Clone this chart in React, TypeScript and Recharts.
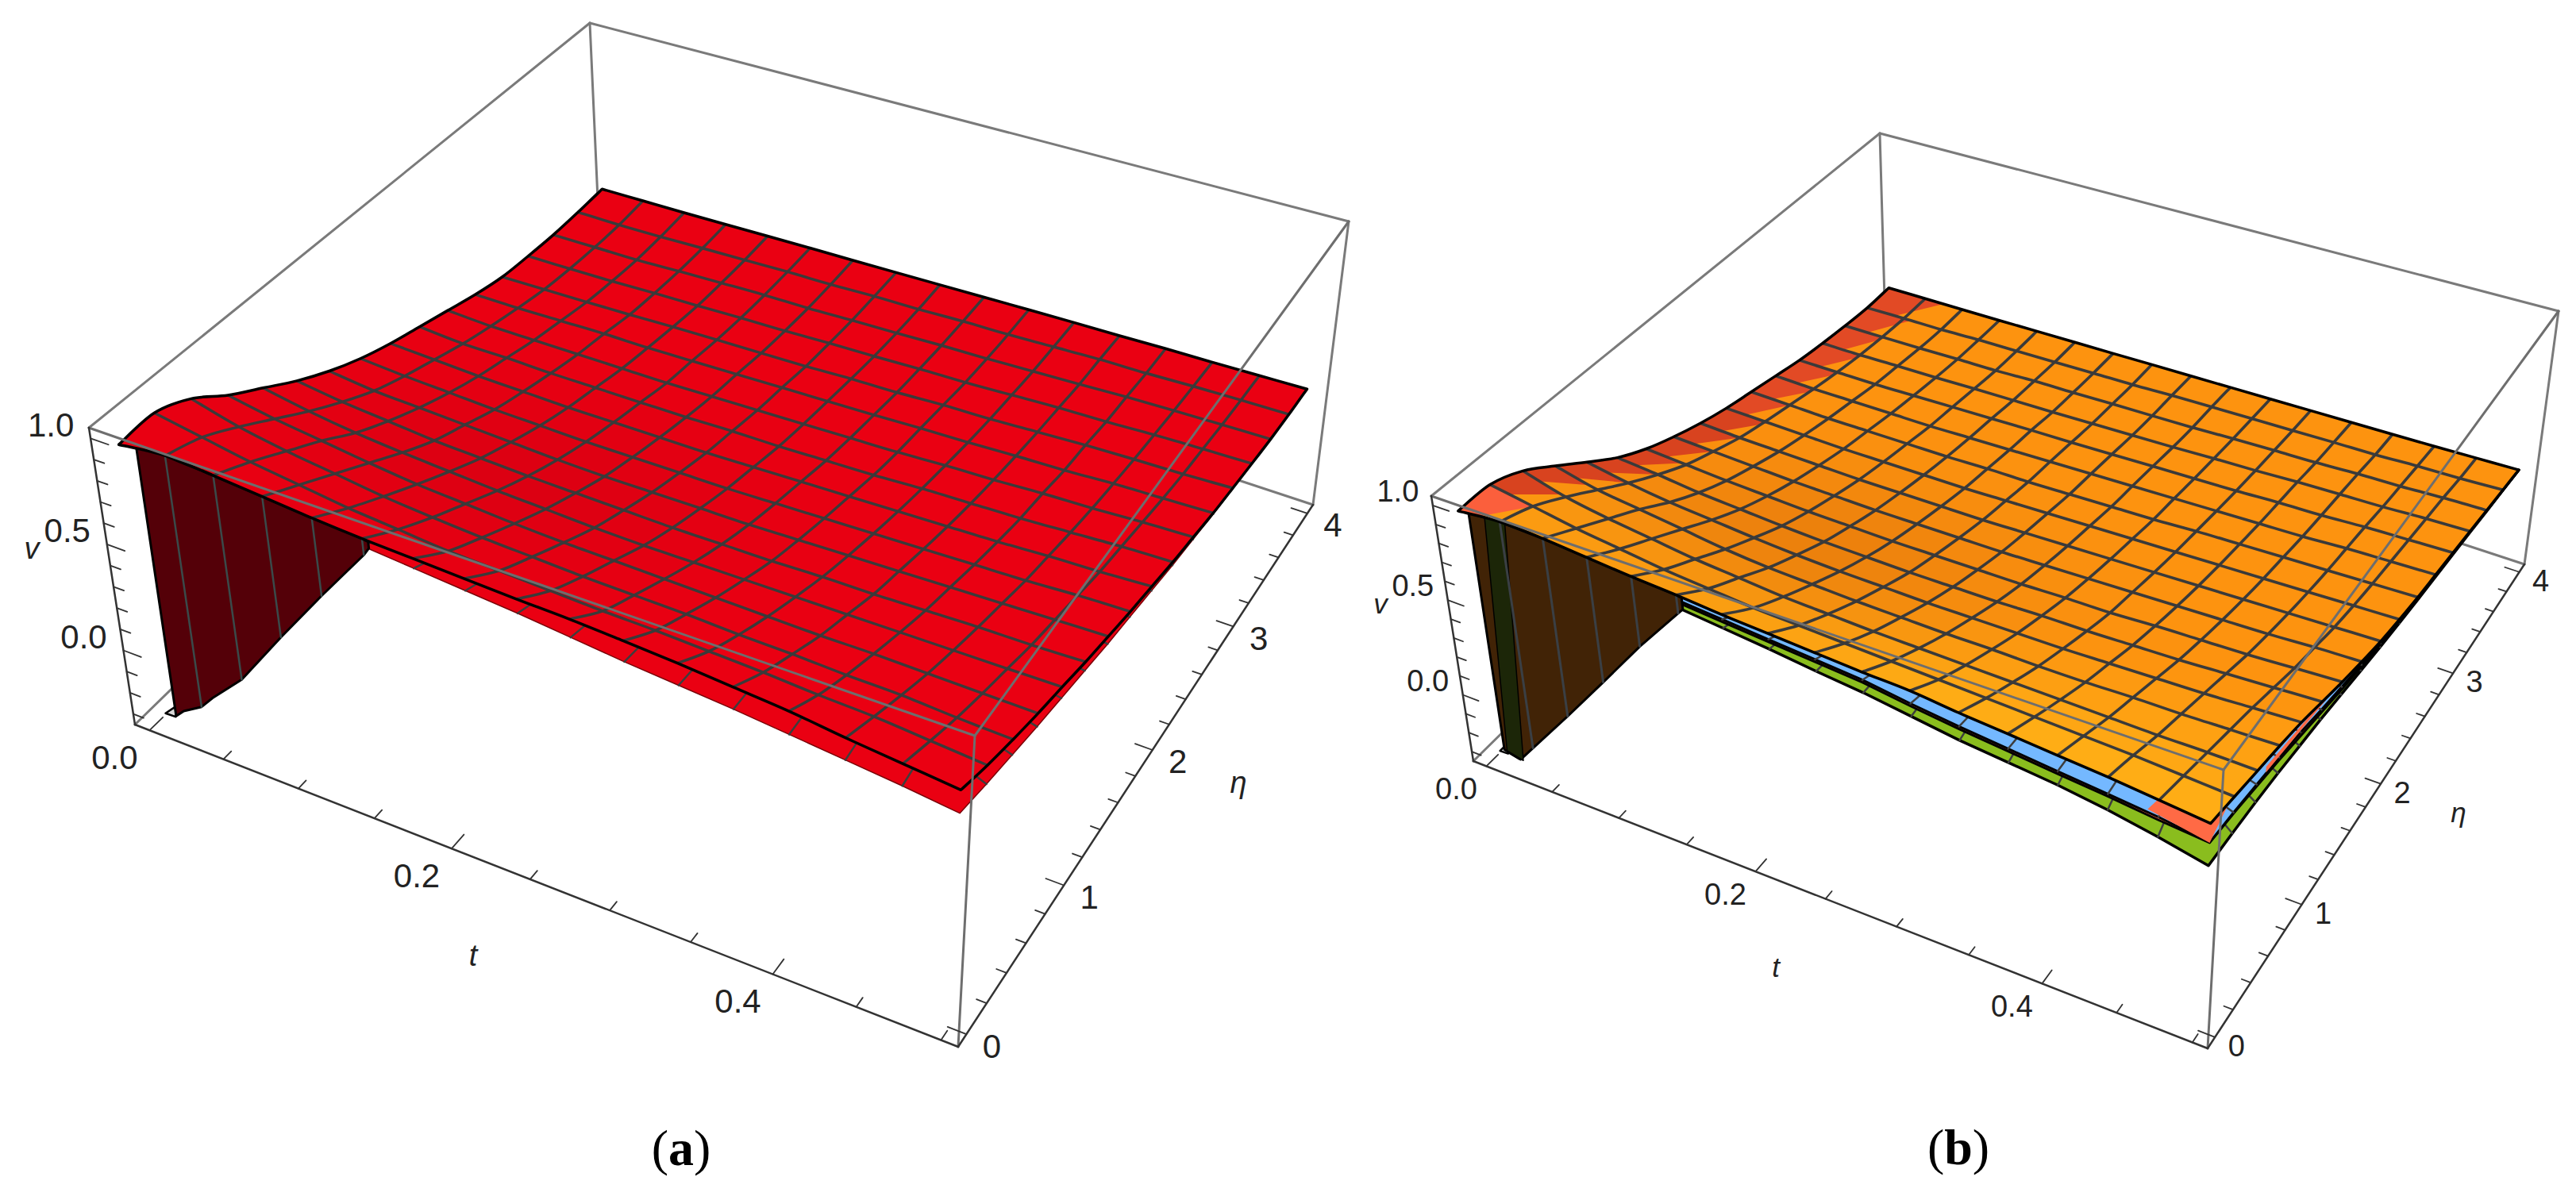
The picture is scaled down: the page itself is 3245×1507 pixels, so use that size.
import { Scatter, ScatterChart, XAxis, YAxis } from 'recharts'

const WIDTH = 3245
const HEIGHT = 1507

// axis domains of the two boxes
const T_RANGE = [-0.01, 0.51]
const ETA_RANGE = [-0.08, 4.08]
const V_RANGE = [-0.35, 1.05]

const tGrid = [0, 0.03125, 0.0625, 0.09375, 0.125, 0.15625, 0.1875, 0.21875, 0.25, 0.28125, 0.3125, 0.34375, 0.375, 0.40625, 0.4375, 0.46875, 0.5]
const etaGrid = [0, 0.25, 0.5, 0.75, 1, 1.25, 1.5, 1.75, 2, 2.25, 2.5, 2.75, 3, 3.25, 3.5, 3.75, 4]

const tTicks = [0, 0.05, 0.1, 0.15, 0.2, 0.25, 0.3, 0.35, 0.4, 0.45, 0.5]
const tMajor = [0, 0.2, 0.4]
const etaTicks = [0, 0.2, 0.4, 0.6, 0.8, 1, 1.2, 1.4, 1.6, 1.8, 2, 2.2, 2.4, 2.6, 2.8, 3, 3.2, 3.4, 3.6, 3.8, 4]
const etaMajor = [0, 1, 2, 3, 4]
const vTicks = [-0.3, -0.2, -0.1, 0, 0.1, 0.2, 0.3, 0.4, 0.5, 0.6, 0.7, 0.8, 0.9, 1]
const vMajor = [0, 0.5, 1]

const tLabels = ['0.0', '0.2', '0.4']
const etaLabels = ['0', '1', '2', '3', '4']
const vLabels = ['0.0', '0.5', '1.0']

// upper surface of panel (a), one row per t, one column per eta
const sheetA = [
  [0.95, 0.96, 0.89, 0.77, 0.67, 0.57, 0.485, 0.415, 0.36, 0.315, 0.27, 0.225, 0.19, 0.175, 0.165, 0.165, 0.17],
  [0.975, 0.92, 0.83, 0.73, 0.63, 0.54, 0.46, 0.4, 0.35, 0.3, 0.26, 0.225, 0.195, 0.178, 0.168, 0.165, 0.174],
  [0.96, 0.88, 0.79, 0.7, 0.6, 0.52, 0.45, 0.39, 0.34, 0.3, 0.26, 0.23, 0.2, 0.182, 0.17, 0.17, 0.178],
  [0.94, 0.85, 0.76, 0.67, 0.58, 0.5, 0.44, 0.38, 0.335, 0.295, 0.26, 0.235, 0.205, 0.19, 0.18, 0.178, 0.183],
  [0.92, 0.82, 0.73, 0.645, 0.565, 0.49, 0.43, 0.375, 0.33, 0.295, 0.26, 0.235, 0.213, 0.195, 0.188, 0.185, 0.189],
  [0.905, 0.8, 0.71, 0.63, 0.55, 0.48, 0.42, 0.37, 0.33, 0.295, 0.26, 0.24, 0.218, 0.203, 0.195, 0.192, 0.194],
  [0.895, 0.78, 0.695, 0.615, 0.54, 0.475, 0.415, 0.37, 0.33, 0.295, 0.265, 0.245, 0.222, 0.207, 0.197, 0.195, 0.198],
  [0.885, 0.77, 0.685, 0.605, 0.53, 0.47, 0.415, 0.37, 0.33, 0.3, 0.27, 0.25, 0.227, 0.215, 0.205, 0.203, 0.203],
  [0.875, 0.76, 0.675, 0.6, 0.525, 0.465, 0.415, 0.37, 0.335, 0.3, 0.275, 0.255, 0.236, 0.22, 0.21, 0.206, 0.208],
  [0.868, 0.75, 0.67, 0.595, 0.525, 0.465, 0.415, 0.375, 0.34, 0.305, 0.28, 0.26, 0.24, 0.228, 0.218, 0.214, 0.213],
  [0.855, 0.745, 0.665, 0.59, 0.525, 0.465, 0.42, 0.38, 0.345, 0.31, 0.285, 0.268, 0.25, 0.232, 0.222, 0.217, 0.218],
  [0.84, 0.735, 0.655, 0.585, 0.525, 0.47, 0.425, 0.385, 0.35, 0.32, 0.295, 0.272, 0.254, 0.241, 0.23, 0.225, 0.222],
  [0.82, 0.725, 0.65, 0.58, 0.525, 0.47, 0.43, 0.39, 0.355, 0.325, 0.3, 0.28, 0.263, 0.25, 0.237, 0.232, 0.225],
  [0.8, 0.71, 0.64, 0.58, 0.525, 0.475, 0.435, 0.395, 0.36, 0.33, 0.31, 0.285, 0.272, 0.254, 0.245, 0.234, 0.23],
  [0.77, 0.7, 0.635, 0.575, 0.525, 0.48, 0.44, 0.4, 0.37, 0.34, 0.315, 0.295, 0.277, 0.263, 0.25, 0.24, 0.232],
  [0.745, 0.68, 0.62, 0.57, 0.525, 0.48, 0.445, 0.41, 0.375, 0.35, 0.325, 0.3, 0.28, 0.267, 0.253, 0.243, 0.236],
  [0.72, 0.66, 0.61, 0.565, 0.526, 0.485, 0.45, 0.415, 0.385, 0.355, 0.33, 0.305, 0.287, 0.27, 0.255, 0.245, 0.24],
]

// upper surface of panel (b)
const sheetB = [
  [0.95, 0.95, 0.885, 0.775, 0.66, 0.55, 0.465, 0.4, 0.345, 0.3, 0.265, 0.23, 0.195, 0.17, 0.15, 0.135, 0.135],
  [0.97, 0.91, 0.82, 0.72, 0.62, 0.53, 0.45, 0.39, 0.335, 0.295, 0.26, 0.225, 0.195, 0.17, 0.152, 0.14, 0.138],
  [0.96, 0.87, 0.78, 0.69, 0.59, 0.505, 0.435, 0.38, 0.33, 0.29, 0.255, 0.225, 0.195, 0.175, 0.155, 0.142, 0.14],
  [0.94, 0.84, 0.75, 0.66, 0.57, 0.49, 0.425, 0.37, 0.325, 0.285, 0.255, 0.225, 0.2, 0.178, 0.16, 0.15, 0.143],
  [0.92, 0.81, 0.72, 0.63, 0.55, 0.475, 0.415, 0.365, 0.32, 0.285, 0.255, 0.225, 0.205, 0.183, 0.163, 0.153, 0.147],
  [0.905, 0.79, 0.7, 0.61, 0.535, 0.465, 0.41, 0.36, 0.32, 0.285, 0.255, 0.23, 0.21, 0.187, 0.172, 0.157, 0.15],
  [0.885, 0.77, 0.68, 0.6, 0.525, 0.46, 0.405, 0.36, 0.32, 0.285, 0.26, 0.235, 0.215, 0.19, 0.175, 0.162, 0.153],
  [0.87, 0.76, 0.67, 0.59, 0.52, 0.455, 0.405, 0.36, 0.32, 0.29, 0.26, 0.24, 0.218, 0.195, 0.18, 0.165, 0.157],
  [0.855, 0.75, 0.66, 0.585, 0.515, 0.455, 0.405, 0.36, 0.325, 0.295, 0.265, 0.245, 0.223, 0.2, 0.183, 0.173, 0.16],
  [0.84, 0.74, 0.655, 0.58, 0.515, 0.455, 0.405, 0.365, 0.33, 0.3, 0.27, 0.25, 0.228, 0.205, 0.187, 0.177, 0.163],
  [0.83, 0.73, 0.65, 0.58, 0.515, 0.46, 0.41, 0.37, 0.335, 0.305, 0.275, 0.255, 0.232, 0.213, 0.195, 0.18, 0.166],
  [0.805, 0.72, 0.645, 0.575, 0.515, 0.46, 0.41, 0.375, 0.34, 0.31, 0.285, 0.26, 0.237, 0.218, 0.2, 0.184, 0.17],
  [0.785, 0.71, 0.64, 0.575, 0.52, 0.465, 0.42, 0.38, 0.345, 0.315, 0.29, 0.265, 0.246, 0.227, 0.204, 0.188, 0.173],
  [0.765, 0.7, 0.635, 0.58, 0.525, 0.47, 0.425, 0.385, 0.35, 0.32, 0.295, 0.27, 0.25, 0.232, 0.213, 0.19, 0.176],
  [0.745, 0.69, 0.63, 0.58, 0.53, 0.48, 0.43, 0.39, 0.355, 0.325, 0.3, 0.28, 0.26, 0.236, 0.217, 0.198, 0.18],
  [0.72, 0.675, 0.63, 0.585, 0.54, 0.49, 0.44, 0.4, 0.36, 0.33, 0.305, 0.285, 0.265, 0.245, 0.226, 0.202, 0.185],
  [0.695, 0.66, 0.625, 0.59, 0.55, 0.5, 0.45, 0.405, 0.365, 0.335, 0.31, 0.29, 0.27, 0.25, 0.23, 0.21, 0.19],
]

// lower sheets: only their front (eta = 0) and right (t = 0.5) rims can be seen
const lowerFrontA = [0.9, 0.9, 0.9, 0.9, 0.885, 0.87, 0.85, 0.83, 0.81, 0.785, 0.76, 0.74, 0.72, 0.695, 0.67, 0.645, 0.615]
const lowerRightA = [0.615, 0.575, 0.54, 0.505, 0.475, 0.445, 0.415, 0.39, 0.365, 0.34, 0.32, 0.3, 0.285, 0.27, 0.255, 0.245, 0.24]

const blueFrontB = [0.94, 0.95, 0.94, 0.92, 0.9, 0.88, 0.86, 0.84, 0.82, 0.8, 0.765, 0.735, 0.71, 0.685, 0.66, 0.635, 0.6]
const blueRightB = [0.6, 0.58, 0.555, 0.53, 0.5, 0.46, 0.425, 0.39, 0.355, 0.33, 0.305, 0.285, 0.268, 0.25, 0.23, 0.21, 0.19]
const redFrontB = [0.93, 0.94, 0.93, 0.91, 0.89, 0.868, 0.847, 0.827, 0.807, 0.787, 0.752, 0.722, 0.697, 0.672, 0.648, 0.62, 0.598]
const redRightB = [0.598, 0.575, 0.545, 0.515, 0.48, 0.445, 0.41, 0.38, 0.35, 0.325, 0.3, 0.282, 0.265, 0.248, 0.228, 0.21, 0.19]
const greenFrontB = [0.92, 0.93, 0.915, 0.89, 0.865, 0.84, 0.815, 0.79, 0.76, 0.735, 0.7, 0.665, 0.64, 0.615, 0.58, 0.535, 0.483]
const greenRightB = [0.483, 0.475, 0.465, 0.45, 0.43, 0.41, 0.385, 0.36, 0.335, 0.315, 0.295, 0.278, 0.262, 0.245, 0.225, 0.208, 0.19]

// steep wall next to eta = 0
const wallTA = [0.012, 0.018, 0.03125, 0.04, 0.0625, 0.09375, 0.125, 0.15625, 0.16]
const wallBottomA = [-0.3, -0.26, -0.205, -0.14, 0.006, 0.286, 0.56, 0.83, 0.87]
const wallTopA = [0.96, 0.975, 0.975, 0.97, 0.96, 0.94, 0.92, 0.905, 0.9]

const wallTB = [0.008, 0.02, 0.03125, 0.0625, 0.09375, 0.125, 0.15625, 0.16]
const wallBottomB = [-0.29, -0.31, -0.22, 0.03, 0.29, 0.557, 0.81, 0.84]
const wallTopB = [0.96, 0.965, 0.97, 0.96, 0.94, 0.92, 0.905, 0.9]

// dark green strip of the (b) wall: t along its top rim, then along its foot
const stripTopTB = [0.02, 0.035]
const stripFootTB = [0.022, 0.01]

// small grey flaps at the foot of the walls, as t, eta pairs on the floor
const flapTA = [-0.0007, 0.001, 0.006]
const flapEtaA = [0.048, 0.11, 0.05]
const flapTB1 = [-0.001, -0.001, 0.005]
const flapEtaB1 = [0.048, 0.118, 0.05]
const flapTB2 = [0.006, 0.008, 0.014]
const flapEtaB2 = [0.056, 0.112, 0.044]

// where the salmon sheet of (b) comes out above the blue one
const cornerPatchT = [0.5, 0.462, 0.47, 0.5]
const cornerPatchEta = [0, 0, 0.1, 0.2]
const cornerPatchV = [0.598, 0.655, 0.72, 0.67]
const streakEta = [0.6, 1.3, 1.3, 0.6]
const streakV = [0.58, 0.5, 0.48, 0.55]

// how far the darker red band reaches into the first row of (b), per eta cell
const patchReachB = [1, 0.9, 0.8, 1, 1, 0.9, 1, 1, 1.1, 1, 1.1, 1.1, 1.1, 1.1, 1.2, 1.5]

type Pt = [number, number]
type Box = { bl: Pt; bf: Pt; br: Pt; bb: Pt; tl: Pt; tf: Pt; tr: Pt; tb: Pt }
type Xy = { x: number; y: number }

const boxA: Box = {
  bl: [170, 913], bf: [1207, 1319], br: [1654, 636], bb: [757, 340],
  tl: [112, 539], tf: [1228, 927], tr: [1699, 279], tb: [743, 29],
}
const boxB: Box = {
  bl: [1856, 959], bf: [2781, 1321], br: [3180, 711], bb: [2376, 447],
  tl: [1803, 625], tf: [2801, 970], tr: [3223, 392], tb: [2368, 168],
}

// unit square -> quad, p0 (0,0), p1 (1,0), p2 (1,1), p3 (0,1)
const homography = (p0: Pt, p1: Pt, p2: Pt, p3: Pt) => {
  const dx1 = p1[0] - p2[0]
  const dx2 = p3[0] - p2[0]
  const sx = p0[0] - p1[0] + p2[0] - p3[0]
  const dy1 = p1[1] - p2[1]
  const dy2 = p3[1] - p2[1]
  const sy = p0[1] - p1[1] + p2[1] - p3[1]
  const den = dx1 * dy2 - dx2 * dy1
  const g = (sx * dy2 - dx2 * sy) / den
  const h = (dx1 * sy - sx * dy1) / den
  const a = p1[0] - p0[0] + g * p1[0]
  const b = p3[0] - p0[0] + h * p3[0]
  const d = p1[1] - p0[1] + g * p1[1]
  const e = p3[1] - p0[1] + h * p3[1]
  return (u: number, w: number): Pt => {
    const q = g * u + h * w + 1
    return [(a * u + b * w + p0[0]) / q, (d * u + e * w + p0[1]) / q]
  }
}

const makeProjection = (box: Box) => {
  const base = homography(box.bl, box.bf, box.br, box.bb)
  const top = homography(box.tl, box.tf, box.tr, box.tb)
  return (t: number, eta: number, v: number): Xy => {
    const u = (t - T_RANGE[0]) / (T_RANGE[1] - T_RANGE[0])
    const w = (eta - ETA_RANGE[0]) / (ETA_RANGE[1] - ETA_RANGE[0])
    const h = (v - V_RANGE[0]) / (V_RANGE[1] - V_RANGE[0])
    const b = base(u, w)
    const a = top(u, w)
    return { x: b[0] + (a[0] - b[0]) * h, y: b[1] + (a[1] - b[1]) * h }
  }
}

type Mark = { x: number; y: number; label?: string }
type Proj = ReturnType<typeof makeProjection>

const mix = (c1: number[], c2: number[], k: number) =>
  `rgb(${c1.map((c, i) => Math.round(c + (c2[i] - c) * k)).join(',')})`
const clamp = (k: number) => Math.max(0, Math.min(1, k))

const darkBand = (t: number, eta: number) =>
  Math.exp(-(((t - 0.15) / 0.13) ** 2) - (((eta - 1.2) / 0.9) ** 2))

const tintA = (t: number, eta: number) => mix([234, 0, 18], [220, 0, 18], darkBand(t, eta))
const tintB = (t: number, eta: number) => {
  const warm = clamp((1.2 - eta) / 1.2) * clamp(0.35 + t * 2)
  const c = [253, 147, 15].map((x, i) => x + ([255, 176, 22][i] - x) * warm)
  return mix(c, [228, 120, 11], darkBand(t, eta) * 0.7)
}

const noDot = () => <g />

// Catmull-Rom through the grid vertices, the real surface has no corners there
const smooth = (pts: Xy[], move = true) => {
  let d = move ? `M${pts[0].x},${pts[0].y}` : `L${pts[0].x},${pts[0].y}`
  for (let i = 0; i < pts.length - 1; i++) {
    const p0 = pts[Math.max(i - 1, 0)]
    const p1 = pts[i]
    const p2 = pts[i + 1]
    const p3 = pts[Math.min(i + 2, pts.length - 1)]
    d += `C${p1.x + (p2.x - p0.x) / 6},${p1.y + (p2.y - p0.y) / 6} ${p2.x - (p3.x - p1.x) / 6},${p2.y - (p3.y - p1.y) / 6} ${p2.x},${p2.y}`
  }
  return d
}

// grid vertices -> filled cells with the mesh drawn over them
const renderSheet = (points: Xy[], tint: (t: number, eta: number) => string, meshWidth: number, reach?: number[]) => {
  const n = tGrid.length
  const m = etaGrid.length
  const at = (i: number, j: number) => points[i * m + j]
  const poly = (list: Xy[]) => list.map((p) => `${p.x},${p.y}`).join(' ')
  const lerp = (a: Xy, b: Xy, k: number) => ({ x: a.x + (b.x - a.x) * k, y: a.y + (b.y - a.y) * k })
  const cells = []
  for (let i = 0; i < n - 1; i++) {
    for (let j = 0; j < m - 1; j++) {
      const fill = tint((tGrid[i] + tGrid[i + 1]) / 2, (etaGrid[j] + etaGrid[j + 1]) / 2)
      cells.push(
        <polygon key={`c${i}-${j}`} points={poly([at(i, j), at(i, j + 1), at(i + 1, j + 1), at(i + 1, j)])} fill={fill} stroke={fill} strokeWidth={1} />,
      )
    }
  }
  const band = (reach ?? []).map((r, j) => {
    const a = lerp(at(0, j), at(1, j), r * 0.5)
    const b = lerp(at(0, j + 1), at(1, j + 1), r)
    const fill = j < 1 ? '#fb5f3c' : j < 9 ? '#d8431f' : '#e24a25'
    return <polygon key={`p${j}`} points={poly([at(0, j), at(0, j + 1), b, a])} fill={fill} />
  })
  const lines = []
  for (let i = 1; i < n - 1; i++) {
    lines.push(<path key={`t${i}`} d={smooth(etaGrid.map((_, j) => at(i, j)))} fill="none" stroke="#3a3a3a" strokeWidth={meshWidth} />)
  }
  for (let j = 1; j < m - 1; j++) {
    lines.push(<path key={`e${j}`} d={smooth(tGrid.map((_, i) => at(i, j)))} fill="none" stroke="#3a3a3a" strokeWidth={meshWidth} />)
  }
  const rim =
    smooth(etaGrid.map((_, j) => at(0, j))) +
    smooth(tGrid.map((_, i) => at(i, m - 1)), false) +
    smooth(etaGrid.map((_, j) => at(n - 1, m - 1 - j)), false) +
    smooth(tGrid.map((_, i) => at(n - 1 - i, 0)), false) +
    'Z'
  return (
    <g>
      <path d={rim} fill={tint(0, 0)} />
      {cells}
      {band}
      {lines}
      <path d={rim} fill="none" stroke="#000" strokeWidth={3.5} strokeLinejoin="round" />
    </g>
  )
}

const renderSegments = (points: Xy[], stroke: string, width: number) => (
  <g>
    {points.filter((_, i) => i % 2 === 0).map((p, i) => (
      <line key={i} x1={p.x} y1={p.y} x2={points[i * 2 + 1].x} y2={points[i * 2 + 1].y} stroke={stroke} strokeWidth={width} strokeLinecap="round" />
    ))}
  </g>
)

const renderPolygon = (points: Xy[], fill: string, stroke: string, width: number) => (
  <polygon points={points.map((p) => `${p.x},${p.y}`).join(' ')} fill={fill} stroke={stroke} strokeWidth={width} strokeLinejoin="round" />
)

const textShape = (size: number, italic: boolean) => (props: any) => (
  <text
    x={props.cx}
    y={props.cy}
    textAnchor="middle"
    dominantBaseline="central"
    fontFamily="'Liberation Sans', Arial, sans-serif"
    fontSize={size}
    fontStyle={italic ? 'italic' : 'normal'}
    fill="#222"
  >
    {props.payload.label}
  </text>
)

const captionShape = (props: any) => (
  <text x={props.cx} y={props.cy} textAnchor="middle" dominantBaseline="central" fontFamily="'Liberation Serif', serif" fontSize={64} fill="#000">
    (<tspan fontWeight="bold">{props.payload.label}</tspan>)
  </text>
)

const edges = (project: Proj, list: number[][][]) =>
  list.flatMap(([a, b]) => [project(a[0], a[1], a[2]), project(b[0], b[1], b[2])])

const rimOutline = (project: Proj, sheet: number[][], front: number[], right: number[], fromRow: number) => [
  ...tGrid.slice(fromRow).map((t, i) => project(t, 0, front[i + fromRow])),
  ...etaGrid.slice(1).map((e, j) => project(0.5, e, right[j + 1])),
  project(tGrid[8], etaGrid[8], sheet[8][8]),
]

const rimMesh = (project: Proj, sheet: number[][], front: number[], right: number[], fromRow: number) => [
  ...tGrid.slice(fromRow, -1).flatMap((t, i) => [project(t, 0, front[i + fromRow]), project(t, etaGrid[1], sheet[i + fromRow][1])]),
  ...etaGrid.slice(1, -1).flatMap((e, j) => [project(0.5, e, right[j + 1]), project(tGrid[15], e, sheet[15][j + 1])]),
]

const wallOutline = (project: Proj, tv: number[], top: number[], bottom: number[]) => [
  ...tv.map((t, i) => project(t, 0, top[i])),
  ...[...tv].reverse().map((t, i) => project(t, 0, bottom[tv.length - 1 - i])),
]

const wallMesh = (project: Proj, tv: number[], top: number[], bottom: number[]) =>
  tGrid.slice(1).flatMap((t) => {
    const b = tv.indexOf(t)
    return b < 0 ? [] : [project(t, 0, top[b]), project(t, 0, bottom[b])]
  })

const T0 = T_RANGE[0]
const T1 = T_RANGE[1]
const E0 = ETA_RANGE[0]
const E1 = ETA_RANGE[1]
const V0 = V_RANGE[0]
const V1 = V_RANGE[1]

const backEdges = [
  [[T0, E1, V1], [T0, E0, V1]],
  [[T0, E1, V1], [T1, E1, V1]],
  [[T0, E1, V1], [T0, E1, V0]],
  [[T0, E0, V0], [T0, E1, V0]],
  [[T0, E1, V0], [T1, E1, V0]],
  [[T1, E1, V1], [T1, E1, V0]],
]
const frontEdges = [
  [[T0, E0, V1], [T1, E0, V1]],
  [[T1, E0, V1], [T1, E1, V1]],
  [[T1, E0, V1], [T1, E0, V0]],
]
const axisEdges = [
  [[T0, E0, V1], [T0, E0, V0]],
  [[T0, E0, V0], [T1, E0, V0]],
  [[T1, E0, V0], [T1, E1, V0]],
]

const tickMarks = (project: Proj) => [
  ...tTicks.flatMap((t) => [project(t, E0, V0), project(t, E0 + (tMajor.includes(t) ? 0.1 : 0.06), V0)]),
  ...etaTicks.flatMap((e) => [project(T1, e, V0), project(T1 - (etaMajor.includes(e) ? 0.011 : 0.006), e, V0)]),
  ...vTicks.flatMap((v) => [project(T0, E0, v), project(T0 + (vMajor.includes(v) ? 0.012 : 0.007), E0, v)]),
]

const labelMarks = (project: Proj, off: { t: Pt; eta: Pt; v: Pt }) => [
  ...tMajor.map((t, i) => {
    const p = project(t, E0, V0)
    return { x: p.x + off.t[0], y: p.y + off.t[1], label: tLabels[i] }
  }),
  ...etaMajor.map((e, i) => {
    const p = project(T1, e, V0)
    return { x: p.x + off.eta[0], y: p.y + off.eta[1], label: etaLabels[i] }
  }),
  ...vMajor.map((v, i) => {
    const p = project(T0, E0, v)
    return { x: p.x + off.v[0], y: p.y + off.v[1], label: vLabels[i] }
  }),
]

const flap = (project: Proj, ts: number[], etas: number[]) => ts.map((t, i) => project(t, etas[i], V0))

const projA = makeProjection(boxA)
const projB = makeProjection(boxB)

const grid = (project: Proj, sheet: number[][]) =>
  tGrid.flatMap((t, i) => etaGrid.map((e, j) => project(t, e, sheet[i][j])))

const Seg = (data: Mark[], stroke: string, width: number, name: string) => (
  <Scatter key={name} name={name} data={data} isAnimationActive={false} shape={noDot} line={(p: any) => renderSegments(p.points, stroke, width)} />
)
const Poly = (data: Mark[], fill: string, name: string, stroke = 'none', width = 0) => (
  <Scatter key={name} name={name} data={data} isAnimationActive={false} shape={noDot} line={(p: any) => renderPolygon(p.points, fill, stroke, width)} />
)
const Labels = (data: Mark[], shape: any, name: string) => (
  <Scatter key={name} name={name} data={data} isAnimationActive={false} shape={shape} />
)

const stripB = [
  ...stripTopTB.map((t) => projB(t, 0, 0.97)),
  projB(stripFootTB[0], 0, -0.31),
  projB(stripFootTB[1], 0, -0.29),
]
const cornerPatchB = cornerPatchT.map((t, i) => projB(t, cornerPatchEta[i], cornerPatchV[i]))
const streakB = streakEta.map((e, i) => projB(0.5, e, streakV[i]))

export default function App() {
  return (
    <div style={{ position: 'absolute', left: 0, top: 0, width: WIDTH, height: HEIGHT, background: '#fff' }}>
      <ScatterChart width={WIDTH} height={HEIGHT} margin={{ top: 0, right: 0, bottom: 0, left: 0 }}>
        <XAxis type="number" dataKey="x" domain={[0, WIDTH]} hide />
        <YAxis type="number" dataKey="y" domain={[0, HEIGHT]} reversed hide />

        {/* panel (a) */}
        {Seg(edges(projA, backEdges), '#7a7a7a', 3, 'a-back')}
        {Poly(flap(projA, flapTA, flapEtaA), '#d9d9d9', 'a-flap', '#000', 2.5)}
        {Poly(rimOutline(projA, sheetA, lowerFrontA, lowerRightA, 4), '#ea0012', 'a-lower', '#7a0008', 1.5)}
        {Seg(rimMesh(projA, sheetA, lowerFrontA, lowerRightA, 5), '#3d3d3d', 2.5, 'a-lower-mesh')}
        {Poly(wallOutline(projA, wallTA, wallTopA, wallBottomA), '#540008', 'a-wall', '#000', 3)}
        {Seg(wallMesh(projA, wallTA, wallTopA, wallBottomA), '#3a4a4a', 2.5, 'a-wall-mesh')}
        <Scatter
          name="a-top"
          data={grid(projA, sheetA)}
          isAnimationActive={false}
          shape={noDot}
          line={(p: any) => renderSheet(p.points, tintA, 3.4)}
        />
        {Seg(edges(projA, frontEdges), '#6e6e6e', 3, 'a-front')}
        {Seg(edges(projA, axisEdges), '#333', 2.5, 'a-axes')}
        {Seg(tickMarks(projA), '#333', 1.8, 'a-ticks')}
        {Labels(labelMarks(projA, { t: [-44, 34], eta: [32, 15], v: [-50, -17] }), textShape(42, false), 'a-labels')}
        {Labels([{ x: 596, y: 1204, label: 't' }, { x: 40, y: 691, label: 'v' }, { x: 1560, y: 986, label: 'η' }], textShape(38, true), 'a-titles')}
        {Labels([{ x: 858, y: 1446, label: 'a' }], captionShape, 'a-caption')}

        {/* panel (b) */}
        {Seg(edges(projB, backEdges), '#7a7a7a', 3, 'b-back')}
        {Poly(flap(projB, flapTB1, flapEtaB1), '#d9d9d9', 'b-flap1', '#000', 2.5)}
        {Poly(flap(projB, flapTB2, flapEtaB2), '#d9d9d9', 'b-flap2', '#000', 2.5)}
        {Poly(rimOutline(projB, sheetB, greenFrontB, greenRightB, 3), '#8abd1e', 'b-green', '#000', 3.5)}
        {Seg(rimMesh(projB, sheetB, greenFrontB, greenRightB, 5), '#3d3d3d', 2.5, 'b-green-mesh')}
        {Poly(rimOutline(projB, sheetB, redFrontB, redRightB, 3), '#ff6a45', 'b-red', '#000', 3)}
        {Poly(rimOutline(projB, sheetB, blueFrontB, blueRightB, 3), '#74b8ff', 'b-blue', '#000', 3)}
        {Seg(rimMesh(projB, sheetB, blueFrontB, blueRightB, 5), '#3d3d3d', 2.5, 'b-blue-mesh')}
        {Poly(cornerPatchB, '#ff6a45', 'b-corner')}
        {Poly(streakB, '#ff6a45', 'b-streak')}
        {Poly(wallOutline(projB, wallTB, wallTopB, wallBottomB), '#412306', 'b-wall', '#000', 3)}
        {Poly(stripB, '#1c2608', 'b-strip', '#000', 1.5)}
        {Seg(wallMesh(projB, wallTB, wallTopB, wallBottomB), '#3a3f44', 3, 'b-wall-mesh')}
        <Scatter
          name="b-top"
          data={grid(projB, sheetB)}
          isAnimationActive={false}
          shape={noDot}
          line={(p: any) => renderSheet(p.points, tintB, 3.6, patchReachB)}
        />
        {Seg(edges(projB, frontEdges), '#6e6e6e', 3, 'b-front')}
        {Seg(edges(projB, axisEdges), '#333', 2.5, 'b-axes')}
        {Seg(tickMarks(projB), '#333', 1.8, 'b-ticks')}
        {Labels(labelMarks(projB, { t: [-38, 29], eta: [27, 11], v: [-44, -18] }), textShape(38, false), 'b-labels')}
        {Labels([{ x: 2237, y: 1218, label: 't' }, { x: 1739, y: 760, label: 'v' }, { x: 3097, y: 1023, label: 'η' }], textShape(35, true), 'b-titles')}
        {Labels([{ x: 2467, y: 1445, label: 'b' }], captionShape, 'b-caption')}
      </ScatterChart>
    </div>
  )
}
